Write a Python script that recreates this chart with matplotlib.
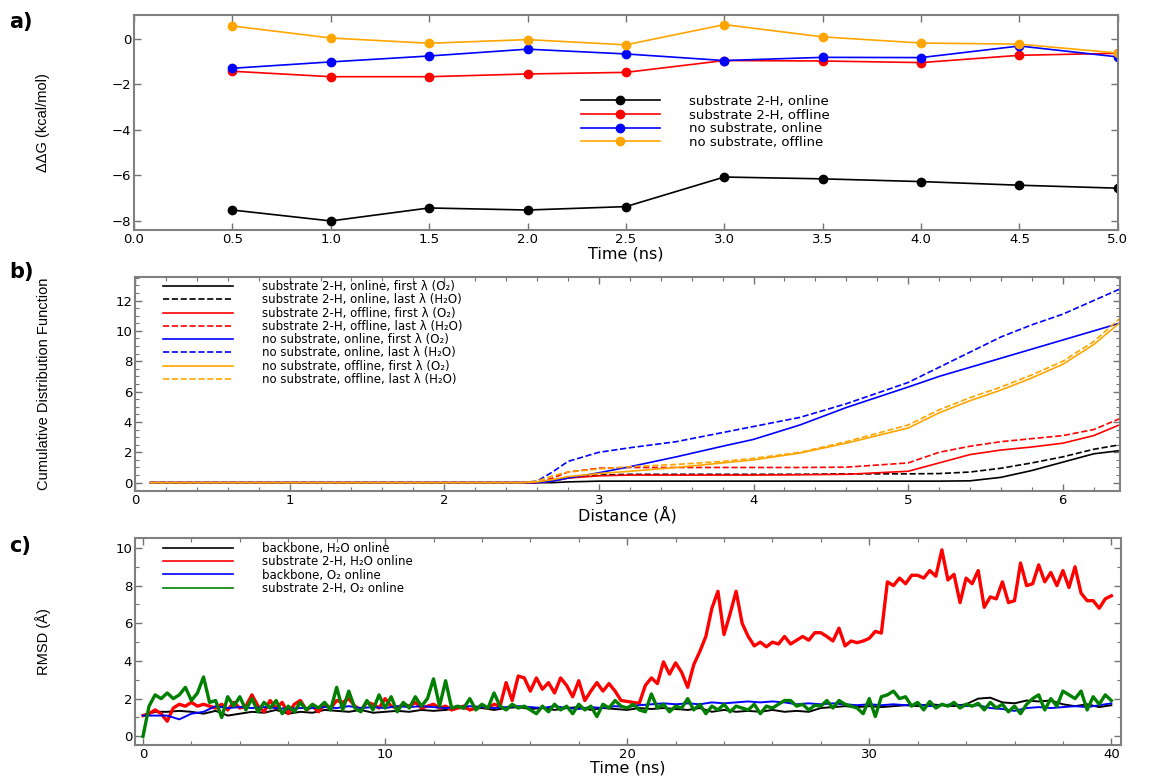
import numpy as np
import matplotlib.pyplot as plt
from matplotlib.ticker import MultipleLocator, FormatStrFormatter

plt.rcParams['font.family'] = ['DejaVu Sans']
plt.rcParams['axes.edgecolor'] = '0.5'
plt.rcParams['axes.linewidth'] = 1.5

# ---- a) free energy differences vs simulation time
time_ns = [0.5, 1.0, 1.5, 2.0, 2.5, 3.0, 3.5, 4.0, 4.5, 5.0]
ddg_sub_online = [-7.52, -8.0, -7.43, -7.52, -7.37, -6.07, -6.15, -6.27, -6.43, -6.56]
ddg_sub_offline = [-1.42, -1.66, -1.66, -1.54, -1.47, -0.95, -0.97, -1.04, -0.72, -0.63]
ddg_nosub_online = [-1.29, -1.01, -0.75, -0.45, -0.66, -0.95, -0.81, -0.82, -0.31, -0.79]
ddg_nosub_offline = [0.57, 0.04, -0.19, -0.03, -0.26, 0.63, 0.09, -0.18, -0.23, -0.62]

# ---- b) cumulative distribution functions
dist = [0.1, 2.5, 2.6, 2.7, 2.8, 3.0, 3.2, 3.5, 3.8, 4.0,
        4.3, 4.6, 5.0, 5.2, 5.4, 5.6, 5.8, 6.0, 6.2, 6.4]
cdf_sub_on_first = [0, 0, 0, 0, 0.05, 0.1, 0.1, 0.1, 0.1, 0.1,
                    0.1, 0.1, 0.1, 0.1, 0.12, 0.35, 0.8, 1.35, 1.9, 2.15]
cdf_sub_on_last = [0, 0, 0, 0.15, 0.35, 0.5, 0.55, 0.55, 0.55, 0.55,
                   0.55, 0.58, 0.58, 0.6, 0.7, 0.95, 1.3, 1.7, 2.2, 2.55]
cdf_sub_off_first = [0, 0, 0, 0.1, 0.3, 0.45, 0.5, 0.5, 0.5, 0.5,
                     0.52, 0.55, 0.75, 1.3, 1.85, 2.15, 2.35, 2.6, 3.1, 3.95]
cdf_sub_off_last = [0, 0, 0, 0.3, 0.7, 0.95, 1.0, 1.0, 1.0, 1.0,
                    1.0, 1.02, 1.3, 2.0, 2.4, 2.7, 2.9, 3.1, 3.5, 4.35]
cdf_nosub_on_first = [0, 0, 0, 0.1, 0.3, 0.65, 1.05, 1.7, 2.4, 2.85,
                      3.8, 4.95, 6.3, 7.0, 7.6, 8.2, 8.8, 9.4, 10.0, 10.6]
cdf_nosub_on_last = [0, 0, 0.1, 0.7, 1.4, 2.0, 2.3, 2.7, 3.3, 3.7,
                     4.3, 5.2, 6.6, 7.6, 8.6, 9.6, 10.4, 11.1, 12.0, 12.9]
cdf_nosub_off_first = [0, 0, 0.05, 0.2, 0.4, 0.6, 0.75, 1.0, 1.3, 1.5,
                       1.95, 2.6, 3.6, 4.6, 5.4, 6.1, 6.9, 7.8, 9.1, 10.8]
cdf_nosub_off_last = [0, 0, 0.1, 0.45, 0.7, 0.9, 1.05, 1.2, 1.4, 1.6,
                      2.0, 2.7, 3.8, 4.8, 5.6, 6.3, 7.1, 8.0, 9.3, 11.1]

# ---- c) RMSD traces
t_fine = np.arange(0, 40.001, 0.25)
t_coarse = np.arange(0, 40.001, 0.5)

rmsd_sub_h2o = [
    1.1, 1.2, 1.4, 1.2, 0.8, 1.5, 1.7, 1.6, 1.8, 1.6,
    1.7, 1.6, 1.5, 1.7, 1.4, 1.8, 1.5, 1.6, 2.2, 1.6,
    1.3, 1.9, 1.5, 1.8, 1.2, 1.7, 1.9, 1.4, 1.6, 1.3,
    1.7, 1.5, 1.9, 1.8, 2.0, 1.6, 1.4, 1.8, 1.7, 1.5,
    2.0, 1.6, 1.5, 1.7, 1.6, 1.8, 1.5, 1.6, 1.7, 1.5,
    1.6, 1.4, 1.5, 1.6, 1.4, 1.5, 1.6, 1.5, 1.7, 1.6,
    2.85, 1.9, 3.2, 3.1, 2.4, 3.1, 2.5, 2.85, 2.3, 3.1,
    2.7, 2.1, 2.95, 1.9, 2.4, 2.85, 2.4, 2.8, 2.4, 1.9,
    1.85, 1.8, 1.75, 2.7, 3.1, 2.8, 3.95, 3.3, 3.9, 3.4,
    2.6, 3.8, 4.5, 5.3, 6.8, 7.7, 5.4, 6.5, 7.7, 6.0,
    5.3, 4.8, 5.0, 4.75, 5.0, 4.9, 5.3, 4.9, 5.1, 5.3,
    5.1, 5.5, 5.5, 5.3, 5.06, 5.74, 4.8, 5.06, 4.97, 5.06,
    5.2, 5.57, 5.48, 8.2, 8.0, 8.4, 8.1, 8.55, 8.55, 8.4,
    8.8, 8.5, 9.9, 8.3, 8.6, 7.1, 8.4, 8.1, 8.8, 6.85,
    7.4, 7.3, 8.2, 7.1, 7.2, 9.2, 8.0, 8.1, 9.1, 8.2,
    8.7, 8.0, 8.8, 7.9, 9.0, 7.6, 7.2, 7.2, 6.8, 7.3,
    7.46]

rmsd_sub_o2 = [
    0.0, 1.6, 2.2, 2.0, 2.3, 2.0, 2.2, 2.6, 1.9, 2.3,
    3.15, 1.8, 1.9, 1.0, 2.1, 1.6, 2.1, 1.4, 2.0, 1.3,
    1.8, 1.5, 1.9, 1.2, 1.6, 1.3, 1.8, 1.4, 1.7, 1.5,
    1.8, 1.4, 2.6, 1.4, 2.4, 1.5, 1.3, 1.9, 1.4, 2.2,
    1.5, 2.1, 1.3, 1.8, 1.5, 2.1, 1.6, 2.0, 3.05, 1.6,
    2.95, 1.5, 1.6, 1.5, 2.0, 1.4, 1.7, 1.5, 2.3, 1.6,
    1.4, 1.7, 1.5, 1.6, 1.4, 1.2, 1.6, 1.3, 1.7, 1.4,
    1.6, 1.2, 1.7, 1.4, 1.6, 1.05, 1.7, 1.5, 1.9, 1.6,
    1.5, 1.7, 1.4, 1.3, 2.25, 1.5, 1.7, 1.3, 1.6, 1.5,
    2.0, 1.4, 1.7, 1.2, 1.6, 1.4, 1.7, 1.3, 1.6, 1.5,
    1.4, 1.7, 1.2, 1.6, 1.5, 1.7, 1.9, 1.9, 1.6, 1.7,
    1.4, 1.65, 1.6, 1.9, 1.5, 1.9, 1.7, 1.6, 1.5, 1.2,
    2.0, 1.05, 2.1, 2.2, 2.4, 2.0, 2.1, 1.6, 1.8, 1.4,
    1.85, 1.5, 1.7, 1.6, 1.8, 1.5, 1.7, 1.6, 1.75, 1.4,
    1.8, 1.5, 1.7, 1.3, 1.6, 1.2, 1.7, 2.0, 2.2, 1.4,
    2.0, 1.6, 2.4, 2.2, 2.0, 2.4, 1.4, 2.1, 1.7, 2.2,
    1.9]

rmsd_bb_h2o = [
    1.1, 1.3, 1.3, 1.35, 1.3, 1.2, 1.35, 1.1, 1.2, 1.3,
    1.25, 1.4, 1.2, 1.3, 1.25, 1.4, 1.35, 1.3, 1.4, 1.25,
    1.3, 1.35, 1.3, 1.4, 1.35, 1.4, 1.5, 1.45, 1.5, 1.4,
    1.5, 1.55, 1.45, 1.5, 1.4, 1.5, 1.55, 1.4, 1.5, 1.45,
    1.4, 1.5, 1.45, 1.5, 1.45, 1.4, 1.5, 1.3, 1.4, 1.3,
    1.35, 1.3, 1.4, 1.3, 1.35, 1.3, 1.5, 1.55, 1.6, 1.55,
    1.6, 1.55, 1.6, 1.65, 1.6, 1.7, 1.65, 1.6, 1.7, 2.0,
    2.05, 1.8, 1.75, 1.9, 1.85, 1.9, 1.7, 1.6, 1.7, 1.55,
    1.65]

rmsd_bb_o2 = [
    1.1, 1.1, 1.1, 0.9, 1.2, 1.3, 1.6, 1.5, 1.55, 1.5,
    1.55, 1.5, 1.45, 1.5, 1.5, 1.55, 1.5, 1.6, 1.5, 1.55,
    1.5, 1.6, 1.55, 1.6, 1.55, 1.5, 1.55, 1.6, 1.55, 1.5,
    1.55, 1.6, 1.55, 1.5, 1.6, 1.5, 1.45, 1.55, 1.5, 1.6,
    1.55, 1.65, 1.7, 1.75, 1.7, 1.75, 1.7, 1.8, 1.75, 1.8,
    1.85, 1.8, 1.85, 1.8, 1.7, 1.75, 1.7, 1.75, 1.7, 1.65,
    1.7, 1.65, 1.7, 1.65, 1.7, 1.6, 1.65, 1.7, 1.6, 1.65,
    1.5, 1.45, 1.35, 1.5, 1.55, 1.5, 1.55, 1.6, 1.55, 1.65,
    1.75]

fig = plt.figure(figsize=(11.5, 7.79), dpi=100)
ax_a = fig.add_axes([0.1165, 0.7047, 0.8555, 0.276])
ax_b = fig.add_axes([0.1174, 0.3697, 0.8565, 0.2747])
ax_c = fig.add_axes([0.1174, 0.0437, 0.8574, 0.2657])

ylab_font = dict(fontsize=10.5, family=['Liberation Sans', 'DejaVu Sans'])


def style_axis(ax):
    ax.tick_params(which='both', direction='in', top=True, right=True,
                   color='0.45', labelsize=9.5, pad=2)
    ax.tick_params(which='major', length=5, width=1)
    ax.tick_params(which='minor', length=3, width=0.8)
    ax.yaxis.set_label_coords(-0.085, 0.5)


# a)
ax_a.plot(time_ns, ddg_sub_online, '-o', color='k', lw=1.2, ms=6,
          label='substrate 2-H, online')
ax_a.plot(time_ns, ddg_sub_offline, '-o', color='r', lw=1.2, ms=6, mec='r',
          label='substrate 2-H, offline')
ax_a.plot(time_ns, ddg_nosub_online, '-o', color='b', lw=1.2, ms=6, mec='b',
          label='no substrate, online')
ax_a.plot(time_ns, ddg_nosub_offline, '-o', color='orange', lw=1.2, ms=6,
          mec='orange', label='no substrate, offline')
ax_a.set_xlim(0, 5)
ax_a.set_ylim(-8.4, 1.05)
ax_a.xaxis.set_major_locator(MultipleLocator(0.5))
ax_a.xaxis.set_major_formatter(FormatStrFormatter('%.1f'))
ax_a.yaxis.set_major_locator(MultipleLocator(2))
style_axis(ax_a)
ax_a.set_xlabel('Time (ns)', fontsize=11.5)
ax_a.xaxis.set_label_coords(0.5, -0.075)
ax_a.set_ylabel('ΔΔG (kcal/mol)', **ylab_font)
ax_a.legend(loc='upper left', bbox_to_anchor=(0.454, 0.628), frameon=False,
            fontsize=9.5, handlelength=6.0, handletextpad=2.2,
            labelspacing=0.05, borderpad=0, borderaxespad=0)

# b)
cdf_series = [
    (cdf_sub_on_first, 'k', '-', 'substrate 2-H, online, first λ (O₂)'),
    (cdf_sub_on_last, 'k', '--', 'substrate 2-H, online, last λ (H₂O)'),
    (cdf_sub_off_first, 'r', '-', 'substrate 2-H, offline, first λ (O₂)'),
    (cdf_sub_off_last, 'r', '--', 'substrate 2-H, offline, last λ (H₂O)'),
    (cdf_nosub_on_first, 'b', '-', 'no substrate, online, first λ (O₂)'),
    (cdf_nosub_on_last, 'b', '--', 'no substrate, online, last λ (H₂O)'),
    (cdf_nosub_off_first, 'orange', '-', 'no substrate, offline, first λ (O₂)'),
    (cdf_nosub_off_last, 'orange', '--', 'no substrate, offline, last λ (H₂O)'),
]
for vals, col, ls, lab in cdf_series:
    ax_b.plot(dist, vals, color=col, ls=ls, lw=1.2, label=lab)
ax_b.set_xlim(0, 6.37)
ax_b.set_ylim(-0.55, 13.55)
ax_b.xaxis.set_major_locator(MultipleLocator(1))
ax_b.xaxis.set_minor_locator(MultipleLocator(0.2))
ax_b.yaxis.set_major_locator(MultipleLocator(2))
ax_b.yaxis.set_minor_locator(MultipleLocator(0.5))
style_axis(ax_b)
ax_b.set_xlabel('Distance (Å)', fontsize=11.5)
ax_b.xaxis.set_label_coords(0.5, -0.072)
ax_b.set_ylabel('Cumulative Distribution Function', **ylab_font)
ax_b.legend(loc='upper left', bbox_to_anchor=(0.028, 0.985), frameon=False,
            fontsize=8.5, handlelength=6.0, handletextpad=2.4,
            labelspacing=0.02, borderpad=0, borderaxespad=0)

# c)
ax_c.plot(t_coarse, rmsd_bb_h2o, color='k', lw=1.4, label='backbone, H₂O online')
ax_c.plot(t_fine, rmsd_sub_h2o, color='r', lw=2.4,
          label='substrate 2-H, H₂O online')
ax_c.plot(t_coarse, rmsd_bb_o2, color='b', lw=1.4, label='backbone, O₂ online')
ax_c.plot(t_fine, rmsd_sub_o2, color='g', lw=2.4,
          label='substrate 2-H, O₂ online')
ax_c.set_xlim(-0.33, 40.4)
ax_c.set_ylim(-0.46, 10.53)
ax_c.xaxis.set_major_locator(MultipleLocator(10))
ax_c.xaxis.set_minor_locator(MultipleLocator(2))
ax_c.yaxis.set_major_locator(MultipleLocator(2))
ax_c.yaxis.set_minor_locator(MultipleLocator(1))
style_axis(ax_c)
ax_c.set_xlabel('Time (ns)', fontsize=11.5)
ax_c.xaxis.set_label_coords(0.5, -0.073)
ax_c.set_ylabel('RMSD (Å)', **ylab_font)
leg_c = ax_c.legend(loc='upper left', bbox_to_anchor=(0.028, 0.98),
                    frameon=False, fontsize=8.5, handlelength=6.0,
                    handletextpad=2.4, labelspacing=0.02, borderpad=0,
                    borderaxespad=0)
for line in leg_c.get_lines():
    line.set_linewidth(1.2)

# panel tags
for tag, y in [('a)', 0.985), ('b)', 0.664), ('c)', 0.312)]:
    fig.text(0.008, y, tag, fontsize=15, fontweight='bold', va='top')

fig.savefig('out.png', dpi=100)
